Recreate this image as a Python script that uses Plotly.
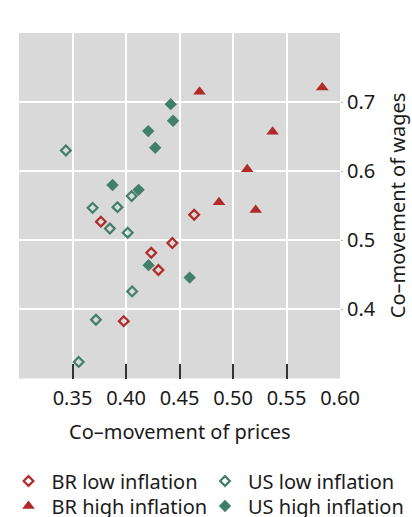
import plotly.graph_objects as go

# Co-movement of prices (x) and wages (y) by inflation regime
br_low_x = [0.3765, 0.4637, 0.4433, 0.4236, 0.4303, 0.3979]
br_low_y = [0.527, 0.537, 0.496, 0.482, 0.457, 0.383]

br_high_x = [0.4687, 0.5834, 0.5370, 0.5133, 0.4869, 0.5212]
br_high_y = [0.715, 0.721, 0.657, 0.603, 0.555, 0.544]

us_low_x = [0.3438, 0.4053, 0.3688, 0.3920, 0.3849, 0.4016, 0.4057, 0.3719, 0.3558]
us_low_y = [0.630, 0.564, 0.547, 0.548, 0.517, 0.511, 0.426, 0.385, 0.324]

us_high_x = [0.4418, 0.4440, 0.4208, 0.4273, 0.3874, 0.4118, 0.4211, 0.4595]
us_high_y = [0.697, 0.673, 0.658, 0.634, 0.580, 0.573, 0.464, 0.446]

x_ticks = [0.30, 0.35, 0.40, 0.45, 0.50, 0.55, 0.60]
x_ticktext = ["", "0.35", "0.40", "0.45", "0.50", "0.55", "0.60"]
y_ticks = [0.4, 0.5, 0.6, 0.7]
y_ticktext = ["0.4", "0.5", "0.6", "0.7"]

RED = "#b02a2a"
GREEN = "#3f7f6b"
FONT = "Noto Sans"
TXT = "#1a1a1a"
W, H = 412, 517
# plot box in figure pixels
X0, X1, Y0, Y1 = 19, 340, 33, 378.5


def fx(px):
    return px / W


def fy(py):
    return 1 - py / H


fig = go.Figure()
fig.add_trace(go.Scatter(
    x=br_low_x, y=br_low_y, mode="markers", name="BR low inflation",
    marker=dict(symbol="diamond-open", size=7.5, color=RED, line=dict(width=2.2, color=RED)),
    legend="legend"))
fig.add_trace(go.Scatter(
    x=br_high_x, y=br_high_y, mode="markers", name="BR high inflation",
    marker=dict(symbol="triangle-up", size=11, color=RED, line=dict(width=0)),
    legend="legend2"))
fig.add_trace(go.Scatter(
    x=us_low_x, y=us_low_y, mode="markers", name="US low inflation",
    marker=dict(symbol="diamond-open", size=7.5, color=GREEN, line=dict(width=2.2, color=GREEN)),
    legend="legend3"))
fig.add_trace(go.Scatter(
    x=us_high_x, y=us_high_y, mode="markers", name="US high inflation",
    marker=dict(symbol="diamond", size=9.5, color=GREEN, line=dict(width=0)),
    legend="legend4"))


def legend_at(px, py):
    # one single-entry legend per slot, centred on its row
    return dict(
        orientation="v", xanchor="left", yanchor="middle",
        x=fx(px), y=fy(py),
        font=dict(family=FONT, size=20, color=TXT),
        bgcolor="rgba(0,0,0,0)", borderwidth=0, itemwidth=36,
    )


fig.update_layout(
    width=W, height=H,
    margin=dict(l=0, r=0, t=0, b=0, autoexpand=False),
    paper_bgcolor="white", plot_bgcolor="#d9d9d9",
    font=dict(family=FONT, size=20, color=TXT),
    showlegend=True,
    legend=legend_at(5.5, 481),
    legend2=legend_at(5.5, 506),
    legend3=legend_at(202, 481),
    legend4=legend_at(202, 506),
    xaxis=dict(
        domain=[fx(X0), fx(X1)],
        range=[0.30, 0.60], tickvals=x_ticks, ticktext=x_ticktext,
        showgrid=True, gridcolor="white", gridwidth=1.5,
        ticks="inside", ticklen=15, tickwidth=1.5, tickcolor="#333333",
        tickfont=dict(family=FONT, size=20, color=TXT),
        ticklabelstandoff=5,
        zeroline=False, showline=False,
    ),
    yaxis=dict(
        domain=[fy(Y1), fy(Y0)],
        range=[0.30, 0.80], tickvals=y_ticks, ticktext=y_ticktext,
        side="right",
        showgrid=True, gridcolor="white", gridwidth=1.5,
        ticks="outside", ticklen=2, tickwidth=1, tickcolor="#bbbbbb",
        tickfont=dict(family=FONT, size=20, color=TXT),
        zeroline=False, showline=False,
    ),
    annotations=[
        dict(text="Co–movement of prices", xref="paper", yref="paper",
             x=fx((X0 + X1) / 2), y=fy(431), xanchor="center", yanchor="middle",
             showarrow=False, font=dict(family=FONT, size=20, color=TXT)),
        dict(text="Co–movement of wages", xref="paper", yref="paper",
             x=fx(397.5), y=fy((Y0 + Y1) / 2), xanchor="center", yanchor="middle",
             textangle=-90,
             showarrow=False, font=dict(family=FONT, size=20, color=TXT)),
    ],
)

fig.write_html("out.html")
